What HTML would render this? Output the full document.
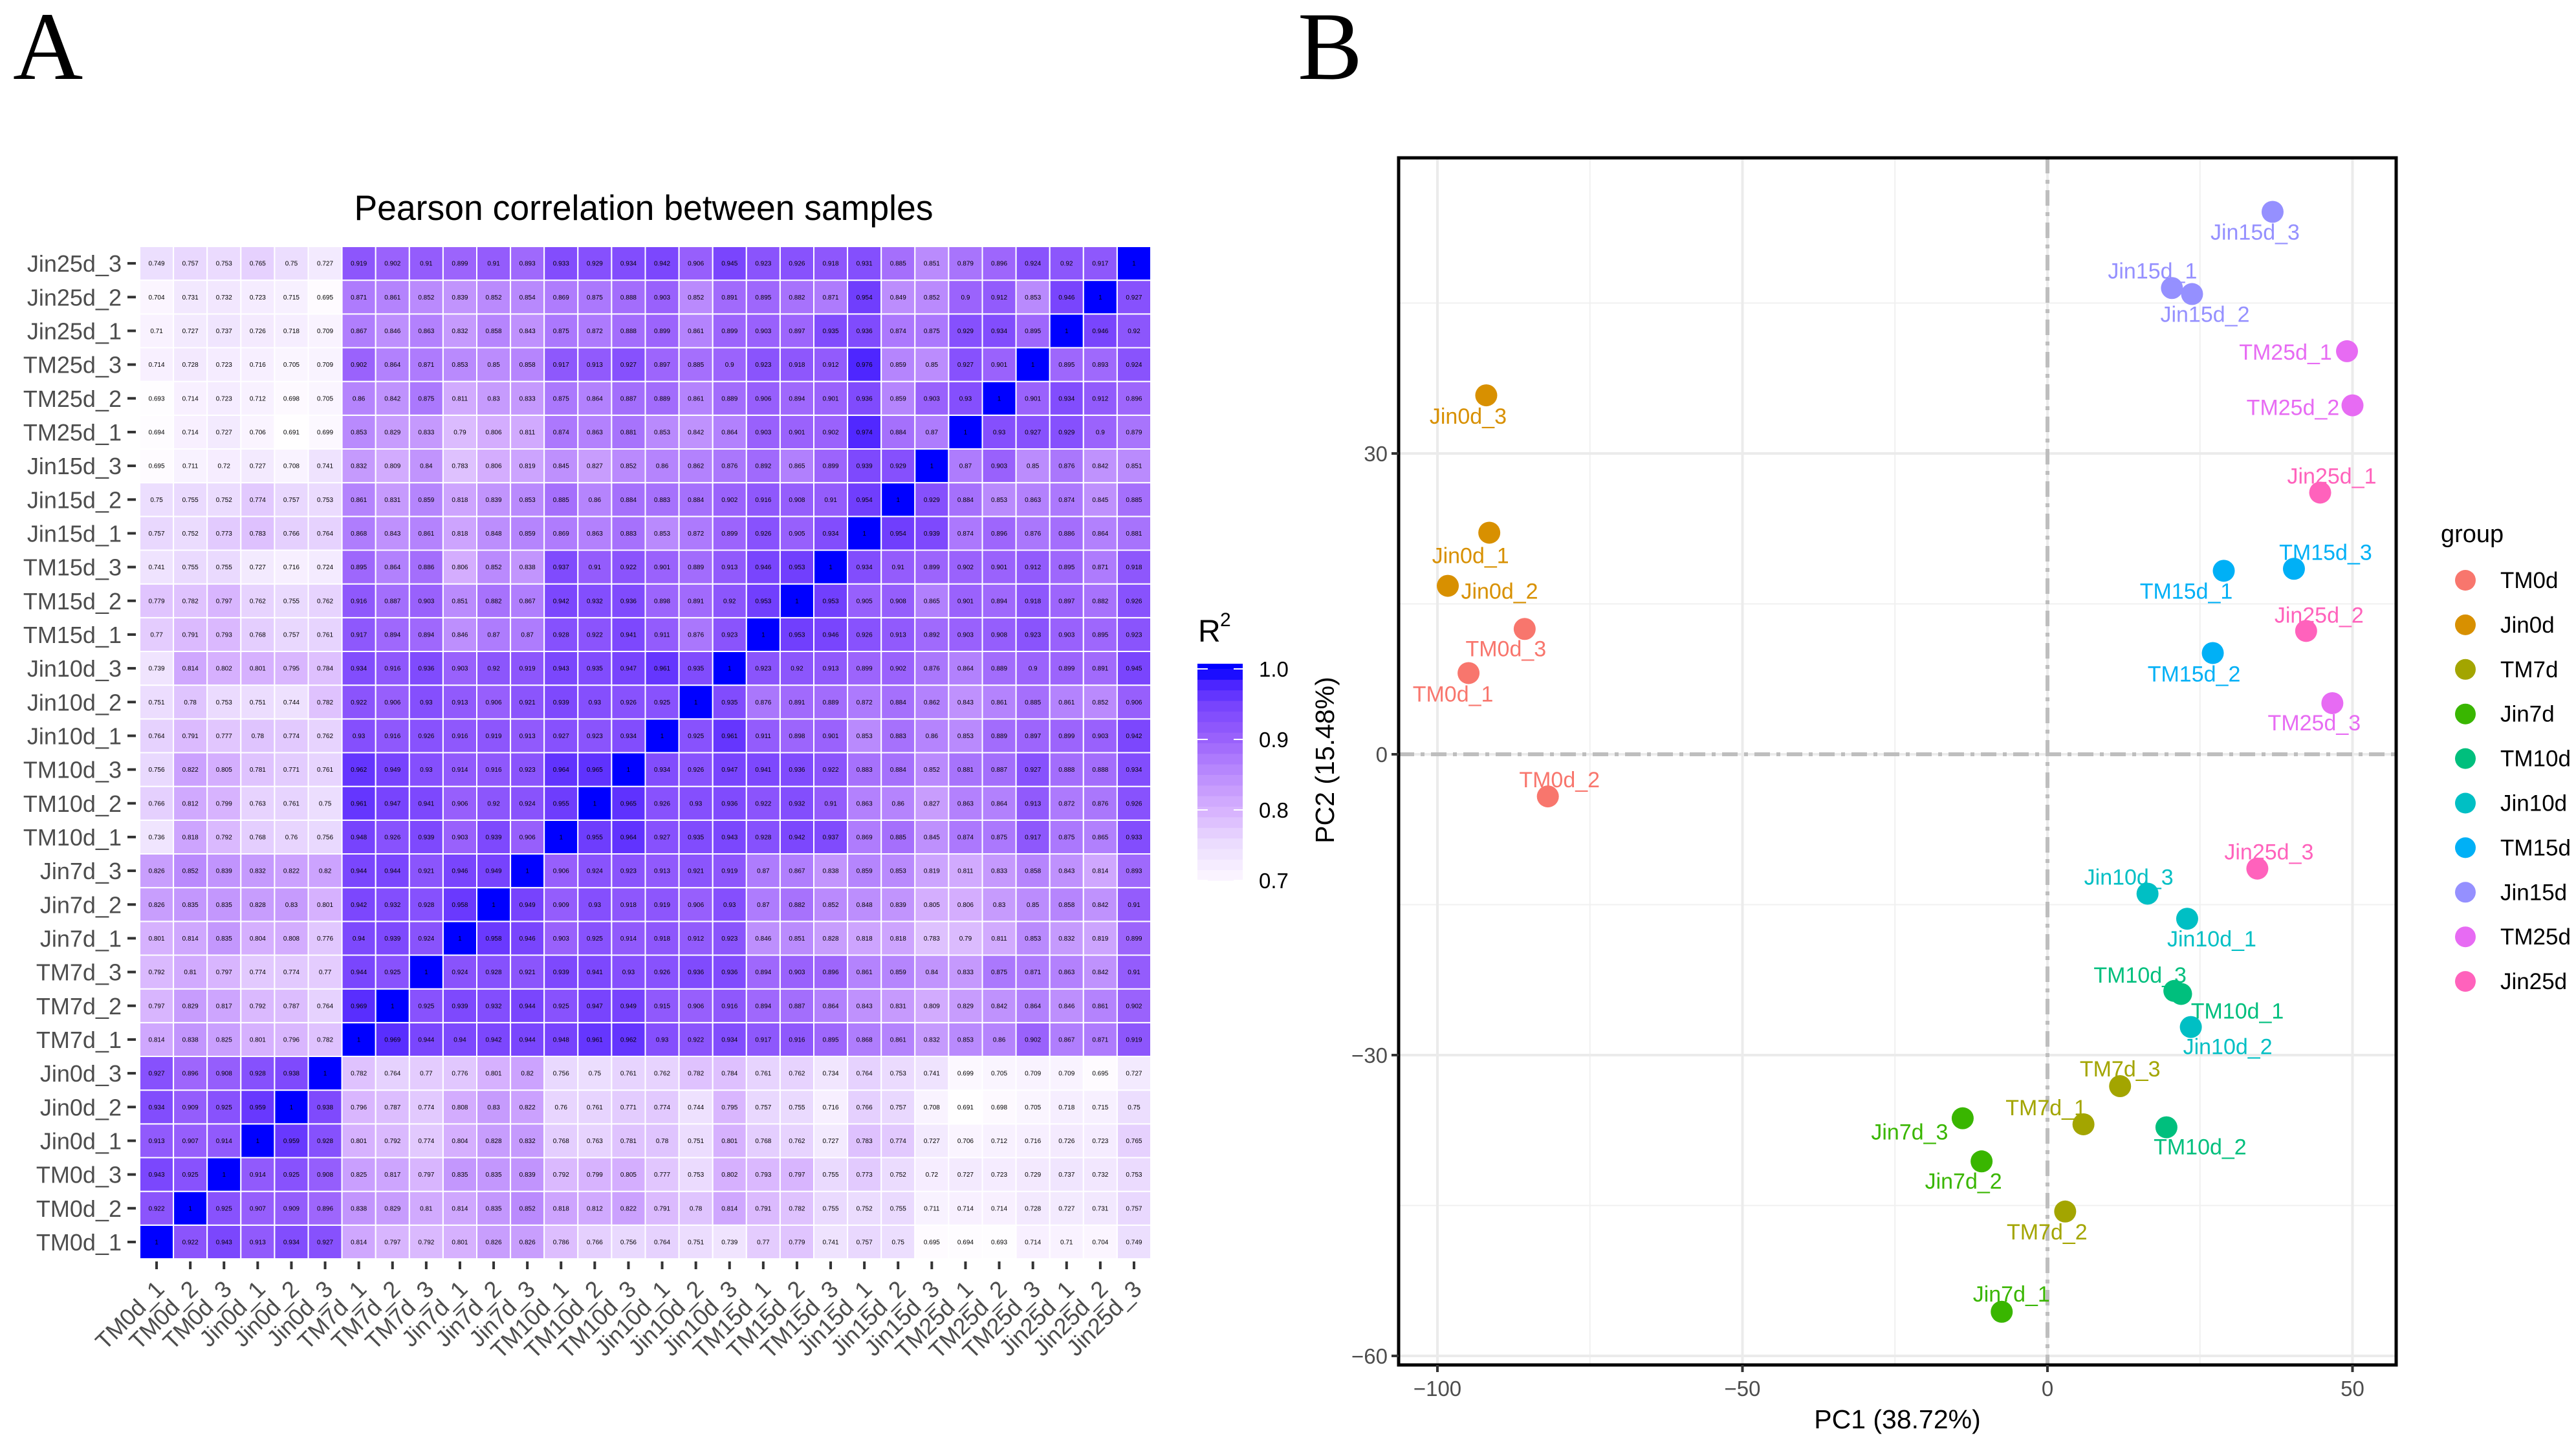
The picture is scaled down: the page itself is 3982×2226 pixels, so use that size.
<!DOCTYPE html>
<html><head><meta charset="utf-8"><style>
html,body{margin:0;padding:0;background:#fff;}
svg{display:block;font-family:"Liberation Sans",Arial,sans-serif;}
</style></head><body>
<svg id="fig" xmlns="http://www.w3.org/2000/svg" width="3982" height="2226" viewBox="0 0 3982 2226">
<rect width="3982" height="2226" fill="#fff"/>
<text x="20" y="122" font-family="Liberation Serif, serif" font-size="150">A</text>
<text x="2006" y="122" font-family="Liberation Serif, serif" font-size="150">B</text>
<g id="heat"></g>
<g id="pca"></g>
</svg>
<script>
const samples = ["TM0d_1","TM0d_2","TM0d_3","Jin0d_1","Jin0d_2","Jin0d_3","TM7d_1","TM7d_2","TM7d_3","Jin7d_1","Jin7d_2","Jin7d_3","TM10d_1","TM10d_2","TM10d_3","Jin10d_1","Jin10d_2","Jin10d_3","TM15d_1","TM15d_2","TM15d_3","Jin15d_1","Jin15d_2","Jin15d_3","TM25d_1","TM25d_2","TM25d_3","Jin25d_1","Jin25d_2","Jin25d_3"];
// rows listed bottom (TM0d_1) to top (Jin25d_3); columns in sample order
const corrRows = [
[1,0.922,0.943,0.913,0.934,0.927,0.814,0.797,0.792,0.801,0.826,0.826,0.786,0.766,0.756,0.764,0.751,0.739,0.77,0.779,0.741,0.757,0.75,0.695,0.694,0.693,0.714,0.71,0.704,0.749],
[0.922,1,0.925,0.907,0.909,0.896,0.838,0.829,0.81,0.814,0.835,0.852,0.818,0.812,0.822,0.791,0.78,0.814,0.791,0.782,0.755,0.752,0.755,0.711,0.714,0.714,0.728,0.727,0.731,0.757],
[0.943,0.925,1,0.914,0.925,0.908,0.825,0.817,0.797,0.835,0.835,0.839,0.792,0.799,0.805,0.777,0.753,0.802,0.793,0.797,0.755,0.773,0.752,0.72,0.727,0.723,0.729,0.737,0.732,0.753],
[0.913,0.907,0.914,1,0.959,0.928,0.801,0.792,0.774,0.804,0.828,0.832,0.768,0.763,0.781,0.78,0.751,0.801,0.768,0.762,0.727,0.783,0.774,0.727,0.706,0.712,0.716,0.726,0.723,0.765],
[0.934,0.909,0.925,0.959,1,0.938,0.796,0.787,0.774,0.808,0.83,0.822,0.76,0.761,0.771,0.774,0.744,0.795,0.757,0.755,0.716,0.766,0.757,0.708,0.691,0.698,0.705,0.718,0.715,0.75],
[0.927,0.896,0.908,0.928,0.938,1,0.782,0.764,0.77,0.776,0.801,0.82,0.756,0.75,0.761,0.762,0.782,0.784,0.761,0.762,0.734,0.764,0.753,0.741,0.699,0.705,0.709,0.709,0.695,0.727],
[0.814,0.838,0.825,0.801,0.796,0.782,1,0.969,0.944,0.94,0.942,0.944,0.948,0.961,0.962,0.93,0.922,0.934,0.917,0.916,0.895,0.868,0.861,0.832,0.853,0.86,0.902,0.867,0.871,0.919],
[0.797,0.829,0.817,0.792,0.787,0.764,0.969,1,0.925,0.939,0.932,0.944,0.925,0.947,0.949,0.915,0.906,0.916,0.894,0.887,0.864,0.843,0.831,0.809,0.829,0.842,0.864,0.846,0.861,0.902],
[0.792,0.81,0.797,0.774,0.774,0.77,0.944,0.925,1,0.924,0.928,0.921,0.939,0.941,0.93,0.926,0.936,0.936,0.894,0.903,0.896,0.861,0.859,0.84,0.833,0.875,0.871,0.863,0.842,0.91],
[0.801,0.814,0.835,0.804,0.808,0.776,0.94,0.939,0.924,1,0.958,0.946,0.903,0.925,0.914,0.918,0.912,0.923,0.846,0.851,0.828,0.818,0.818,0.783,0.79,0.811,0.853,0.832,0.819,0.899],
[0.826,0.835,0.835,0.828,0.83,0.801,0.942,0.932,0.928,0.958,1,0.949,0.909,0.93,0.918,0.919,0.906,0.93,0.87,0.882,0.852,0.848,0.839,0.805,0.806,0.83,0.85,0.858,0.842,0.91],
[0.826,0.852,0.839,0.832,0.822,0.82,0.944,0.944,0.921,0.946,0.949,1,0.906,0.924,0.923,0.913,0.921,0.919,0.87,0.867,0.838,0.859,0.853,0.819,0.811,0.833,0.858,0.843,0.814,0.893],
[0.736,0.818,0.792,0.768,0.76,0.756,0.948,0.926,0.939,0.903,0.939,0.906,1,0.955,0.964,0.927,0.935,0.943,0.928,0.942,0.937,0.869,0.885,0.845,0.874,0.875,0.917,0.875,0.865,0.933],
[0.766,0.812,0.799,0.763,0.761,0.75,0.961,0.947,0.941,0.906,0.92,0.924,0.955,1,0.965,0.926,0.93,0.936,0.922,0.932,0.91,0.863,0.86,0.827,0.863,0.864,0.913,0.872,0.876,0.926],
[0.756,0.822,0.805,0.781,0.771,0.761,0.962,0.949,0.93,0.914,0.916,0.923,0.964,0.965,1,0.934,0.926,0.947,0.941,0.936,0.922,0.883,0.884,0.852,0.881,0.887,0.927,0.888,0.888,0.934],
[0.764,0.791,0.777,0.78,0.774,0.762,0.93,0.916,0.926,0.916,0.919,0.913,0.927,0.923,0.934,1,0.925,0.961,0.911,0.898,0.901,0.853,0.883,0.86,0.853,0.889,0.897,0.899,0.903,0.942],
[0.751,0.78,0.753,0.751,0.744,0.782,0.922,0.906,0.93,0.913,0.906,0.921,0.939,0.93,0.926,0.925,1,0.935,0.876,0.891,0.889,0.872,0.884,0.862,0.843,0.861,0.885,0.861,0.852,0.906],
[0.739,0.814,0.802,0.801,0.795,0.784,0.934,0.916,0.936,0.903,0.92,0.919,0.943,0.935,0.947,0.961,0.935,1,0.923,0.92,0.913,0.899,0.902,0.876,0.864,0.889,0.9,0.899,0.891,0.945],
[0.77,0.791,0.793,0.768,0.757,0.761,0.917,0.894,0.894,0.846,0.87,0.87,0.928,0.922,0.941,0.911,0.876,0.923,1,0.953,0.946,0.926,0.913,0.892,0.903,0.908,0.923,0.903,0.895,0.923],
[0.779,0.782,0.797,0.762,0.755,0.762,0.916,0.887,0.903,0.851,0.882,0.867,0.942,0.932,0.936,0.898,0.891,0.92,0.953,1,0.953,0.905,0.908,0.865,0.901,0.894,0.918,0.897,0.882,0.926],
[0.741,0.755,0.755,0.727,0.716,0.724,0.895,0.864,0.886,0.806,0.852,0.838,0.937,0.91,0.922,0.901,0.889,0.913,0.946,0.953,1,0.934,0.91,0.899,0.902,0.901,0.912,0.895,0.871,0.918],
[0.757,0.752,0.773,0.783,0.766,0.764,0.868,0.843,0.861,0.818,0.848,0.859,0.869,0.863,0.883,0.853,0.872,0.899,0.926,0.905,0.934,1,0.954,0.939,0.874,0.896,0.876,0.886,0.864,0.881],
[0.75,0.755,0.752,0.774,0.757,0.753,0.861,0.831,0.859,0.818,0.839,0.853,0.885,0.86,0.884,0.883,0.884,0.902,0.916,0.908,0.91,0.954,1,0.929,0.884,0.853,0.863,0.874,0.845,0.885],
[0.695,0.711,0.72,0.727,0.708,0.741,0.832,0.809,0.84,0.783,0.806,0.819,0.845,0.827,0.852,0.86,0.862,0.876,0.892,0.865,0.899,0.939,0.929,1,0.87,0.903,0.85,0.876,0.842,0.851],
[0.694,0.714,0.727,0.706,0.691,0.699,0.853,0.829,0.833,0.79,0.806,0.811,0.874,0.863,0.881,0.853,0.842,0.864,0.903,0.901,0.902,0.974,0.884,0.87,1,0.93,0.927,0.929,0.9,0.879],
[0.693,0.714,0.723,0.712,0.698,0.705,0.86,0.842,0.875,0.811,0.83,0.833,0.875,0.864,0.887,0.889,0.861,0.889,0.906,0.894,0.901,0.936,0.859,0.903,0.93,1,0.901,0.934,0.912,0.896],
[0.714,0.728,0.723,0.716,0.705,0.709,0.902,0.864,0.871,0.853,0.85,0.858,0.917,0.913,0.927,0.897,0.885,0.9,0.923,0.918,0.912,0.976,0.859,0.85,0.927,0.901,1,0.895,0.893,0.924],
[0.71,0.727,0.737,0.726,0.718,0.709,0.867,0.846,0.863,0.832,0.858,0.843,0.875,0.872,0.888,0.899,0.861,0.899,0.903,0.897,0.935,0.936,0.874,0.875,0.929,0.934,0.895,1,0.946,0.92],
[0.704,0.731,0.732,0.723,0.715,0.695,0.871,0.861,0.852,0.839,0.852,0.854,0.869,0.875,0.888,0.903,0.852,0.891,0.895,0.882,0.871,0.954,0.849,0.852,0.9,0.912,0.853,0.946,1,0.927],
[0.749,0.757,0.753,0.765,0.75,0.727,0.919,0.902,0.91,0.899,0.91,0.893,0.933,0.929,0.934,0.942,0.906,0.945,0.923,0.926,0.918,0.931,0.885,0.851,0.879,0.896,0.924,0.92,0.917,1]
];
const legendTicks = [0.7,0.8,0.9,1.0];

const pcaGroups = ["TM0d","Jin0d","TM7d","Jin7d","TM10d","Jin10d","TM15d","Jin15d","TM25d","Jin25d"];
const pcaLabels = samples;
const pc1 = [-94.9,-81.9,-85.7,-91.5,-98.3,-92.0,5.9,2.9,11.9,-7.5,-10.8,-13.9,21.9,19.5,20.8,22.9,23.5,16.4,28.9,27.1,40.4,20.4,23.7,36.9,49.1,50.0,46.7,44.7,42.4,34.4];
const pc2 = [8.1,-4.2,12.5,22.1,16.8,35.8,-36.9,-45.6,-33.1,-55.6,-40.6,-36.3,-23.9,-37.2,-23.6,-16.4,-27.2,-13.9,18.3,10.1,18.5,46.5,45.9,54.1,40.2,34.8,5.1,26.1,12.3,-11.4];
const xTicks = [-100,-50,0,50];
const yTicks = [-60,-30,0,30];

const NS="http://www.w3.org/2000/svg";
function mk(tag, attrs, parent, text){const e=document.createElementNS(NS,tag);for(const k in attrs)e.setAttribute(k,attrs[k]);if(text!==undefined)e.textContent=text;parent.appendChild(e);return e;}

// ---------- Heatmap ----------
const heat=document.getElementById('heat');
const HX0=216,HX1=1779,HY0=381,HY1=1946,N=samples.length;
const cw=(HX1-HX0)/N, ch=(HY1-HY0)/N;
const colX=i=>HX0+i*cw;
const rowY=r=>HY1-(r+1)*ch; // r=0 bottom
const stops=[[0.69,[255,255,255]],[0.7,[252,247,255]],[0.75,[236,222,254]],[0.8,[215,178,254]],[0.85,[187,140,253]],[0.9,[155,99,252]],[0.95,[118,66,253]],[0.98,[72,34,255]],[1.0,[0,0,255]]];
function col(v){if(v<=stops[0][0])return 'rgb(255,255,255)';for(let i=1;i<stops.length;i++){if(v<=stops[i][0]){const a=stops[i-1],b=stops[i],t=(v-a[0])/(b[0]-a[0]);const c=a[1].map((x,k)=>Math.round(x+(b[1][k]-x)*t));return `rgb(${c})`;}}return 'rgb(0,0,255)';}
mk('text',{x:995,y:340,'text-anchor':'middle','font-size':55,textLength:895,lengthAdjust:'spacingAndGlyphs',fill:'#000',},heat,'Pearson correlation between samples');
corrRows.forEach((row,r)=>{row.forEach((v,c)=>{
  const rect=mk('rect',{x:colX(c),y:rowY(r),width:cw,height:ch,fill:col(v),stroke:'#ffffff','stroke-width':2},heat);
  
  
  const t=mk('text',{x:colX(c)+cw/2,y:rowY(r)+ch/2+3.5,'text-anchor':'middle','font-size':10,fill:'#000'},heat,String(v));
  
  
});});
samples.forEach((s,i)=>{
  const yc=rowY(i)+ch/2;
  const tk=mk('line',{x1:197,x2:210,y1:yc,y2:yc,stroke:'#333','stroke-width':4},heat);
  
  
  const t=mk('text',{x:188,y:yc+13,'text-anchor':'end','font-size':36,fill:'#4d4d4d'},heat,s);
  
  
  const xc=colX(i)+cw/2;
  const tk2=mk('line',{x1:xc,x2:xc,y1:1950,y2:1962,stroke:'#333','stroke-width':4},heat);
  
  
  const t2=mk('text',{x:xc+14,y:1995,'text-anchor':'end','font-size':36,fill:'#4d4d4d',transform:`rotate(-45 ${xc+14} 1995)`},heat,s);
  
  
});
// color legend
const LX=1851,LW=70,L0y=1361,L1y=1034; const ly=v=>L0y-(v-0.7)/0.3*(L0y-L1y);
mk('text',{x:1852,y:992,'font-size':48,fill:'#000',},heat,'R');
mk('text',{x:1886,y:968,'font-size':30,fill:'#000',},heat,'2');
for(let k=0;k<20;k++){const v0=0.7+k*0.015;const y0=ly(v0+0.015),y1=ly(v0);
  const b=mk('rect',{x:LX,y:y0-0.5,width:LW,height:y1-y0+1,fill:col(v0+0.0075)},heat);
  
  }
mk('rect',{x:LX,y:1026,width:LW,height:ly(1.0)-1026,fill:'#0000ff',},heat);
legendTicks.forEach(v=>{const y=ly(v);
  const a=mk('line',{x1:LX,x2:LX+16,y1:y,y2:y,stroke:'#fff','stroke-width':2},heat);
  
  
  const b=mk('line',{x1:LX+LW-14,x2:LX+LW,y1:y,y2:y,stroke:'#fff','stroke-width':2},heat);
  
  
  const t=mk('text',{x:1946,y:y+12,'font-size':33,fill:'#000'},heat,v.toFixed(1));
  
  });

// ---------- PCA ----------
const pca=document.getElementById('pca');
const PX0=2162,PX1=3704,PY0=244,PY1=2110;
const X0PX=3165,XS=9.43,Y0PX=1166,YS=15.5;
const sx=v=>X0PX+v*XS, sy=v=>Y0PX-v*YS;
const colors=["#F8766D","#D89000","#A3A500","#39B600","#00BF7D","#00BFC4","#00B0F6","#9590FF","#E76BF3","#FF62BC"];
const labOff=[[-24,32],[18,-26],[-29,30],[-29,35],[80,8],[-28,32],[-58,-26],[-28,31],[0,-27],[15,-28],[-28,30],[-82,21],[87,26],[52,30],[-53,-25],[38,31],[57,30],[-29,-26],[-58,31],[-29,32],[49,-26],[-30,-27],[20,31],[-27,31],[-95,1],[-92,3],[-28,30],[18,-26],[20,-25],[18,-26]];
const clip=mk('clipPath',{id:'pclip'},pca);mk('rect',{x:PX0,y:PY0,width:PX1-PX0,height:PY1-PY0},clip);
const gg=mk('g',{'clip-path':'url(#pclip)',},pca);
const xminor=[-75,-25,25], yminor=[-45,-15,15,45];
xminor.forEach(v=>{const l=mk('line',{x1:sx(v),x2:sx(v),y1:PY0,y2:PY1,stroke:'#f0f0f0','stroke-width':2},gg);});
yminor.forEach(v=>{const l=mk('line',{y1:sy(v),y2:sy(v),x1:PX0,x2:PX1,stroke:'#f0f0f0','stroke-width':2},gg);});
xTicks.forEach(v=>{const l=mk('line',{x1:sx(v),x2:sx(v),y1:PY0,y2:PY1,stroke:'#ebebeb','stroke-width':4},gg);});
yTicks.forEach(v=>{const l=mk('line',{y1:sy(v),y2:sy(v),x1:PX0,x2:PX1,stroke:'#ebebeb','stroke-width':4},gg);});
mk('line',{x1:sx(0),x2:sx(0),y1:PY0,y2:PY1,stroke:'#bebebe','stroke-width':6,'stroke-dasharray':'24 10 6 10',},gg);
mk('line',{y1:sy(0),y2:sy(0),x1:PX0,x2:PX1,stroke:'#bebebe','stroke-width':6,'stroke-dasharray':'24 10 6 10',},gg);
pc1.forEach((v,i)=>{const g=Math.floor(i/3);
  const c=mk('circle',{cx:sx(v),cy:sy(pc2[i]),r:17,fill:colors[g]},pca);
  
  });
pc1.forEach((v,i)=>{const g=Math.floor(i/3);
  const t=mk('text',{x:sx(v)+labOff[i][0],y:sy(pc2[i])+labOff[i][1]+12,'text-anchor':'middle','font-size':34,fill:colors[g]},pca,pcaLabels[i]);
  
  });
mk('rect',{x:PX0,y:PY0,width:PX1-PX0,height:PY1-PY0,fill:'none',stroke:'#000','stroke-width':5,},pca);
xTicks.forEach(v=>{
  const l=mk('line',{x1:sx(v),x2:sx(v),y1:PY1,y2:PY1+11,stroke:'#333','stroke-width':4},pca);
  
  
  const t=mk('text',{x:sx(v),y:2158,'text-anchor':'middle','font-size':33,fill:'#4d4d4d'},pca,v<0?'\u2212'+(-v):String(v));
  
  });
yTicks.forEach(v=>{
  const l=mk('line',{x1:PX0-11,x2:PX0,y1:sy(v),y2:sy(v),stroke:'#333','stroke-width':4},pca);
  
  
  const t=mk('text',{x:2145,y:sy(v)+12,'text-anchor':'end','font-size':33,fill:'#4d4d4d'},pca,v<0?'\u2212'+(-v):String(v));
  
  });
mk('text',{x:2933,y:2208,'text-anchor':'middle','font-size':41,fill:'#000',},pca,'PC1 (38.72%)');
mk('text',{x:2062,y:1175,'text-anchor':'middle','font-size':41,fill:'#000',transform:'rotate(-90 2062 1175)',},pca,'PC2 (15.48%)');
mk('text',{x:3773,y:838,'font-size':38,fill:'#000',},pca,'group');
pcaGroups.forEach((g,i)=>{const y=897+i*68.9;
  const c=mk('circle',{cx:3811,cy:y,r:16,fill:colors[i]},pca);
  
  
  const t=mk('text',{x:3865,y:y+12,'font-size':35,fill:'#000'},pca,g);
  
  });
</script>
</body></html>
